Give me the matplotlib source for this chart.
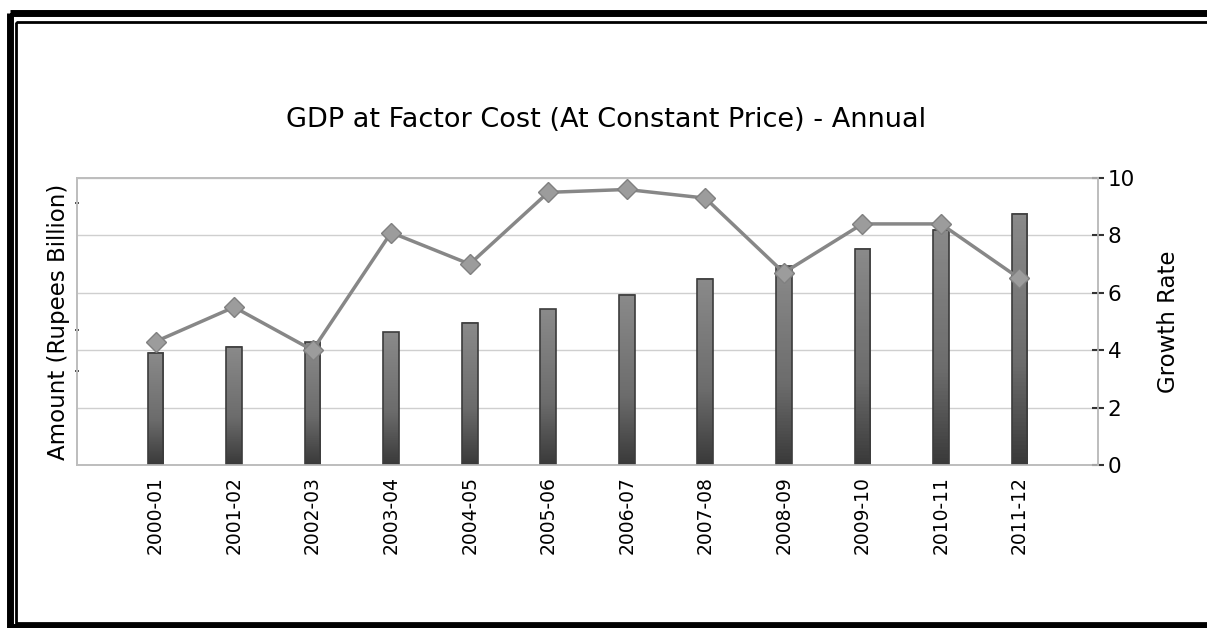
#!/usr/bin/env python3

import matplotlib.pyplot as plt
import numpy as np
from matplotlib.colors import LinearSegmentedColormap
from matplotlib.patches import Rectangle

years = ["2000-01", "2001-02", "2002-03", "2003-04", "2004-05", "2005-06",
         "2006-07", "2007-08", "2008-09", "2009-10", "2010-11", "2011-12"]
amount = [23480, 24750, 25710, 27760, 29710, 32530,
          35640, 38970, 41590, 45160, 49190, 52480]
growth = [4.3, 5.5, 4.0, 8.1, 7.0, 9.5, 9.6, 9.3, 6.7, 8.4, 8.4, 6.5]
growth_ticks = [0, 2, 4, 6, 8, 10]
amount_marks = [19650, 28200, 54800]

W, H = 1207, 628
fig = plt.figure(figsize=(W / 100, H / 100), dpi=100)

# double frame round the picture
frame = fig.add_axes([0, 0, 1, 1], zorder=-5)
frame.set_xlim(0, W)
frame.set_ylim(H, 0)
frame.axis("off")
frame.add_patch(Rectangle((10, 12.5), W + 20, H - 12.5 - 1.5, fill=False,
                          lw=5, ec="black"))
frame.add_patch(Rectangle((16, 22), W + 20, H - 22 - 5, fill=False,
                          lw=2, ec="black"))

ax1 = fig.add_axes([77 / W, 1 - 465 / H, (1098 - 77) / W, (465 - 178) / H])
ax2 = ax1.twinx()

x = np.arange(len(years))
bw = 0.2
cmap = LinearSegmentedColormap.from_list(
    "bar", [(0.0, "#3a3a3a"), (0.4, "#6c6c6c"), (1.0, "#8a8a8a")])
grad = np.linspace(0, 1, 64).reshape(-1, 1)

for gy in np.arange(12000, 60001, 12000):
    ax1.axhline(gy, color="#cfcfcf", lw=1, zorder=0)

for xi, val in zip(x, amount):
    ax1.imshow(grad, cmap=cmap, origin="lower", aspect="auto",
               extent=(xi - bw / 2, xi + bw / 2, 0, val), zorder=2)
    rect = Rectangle((xi - bw / 2, 0), bw, val, fill=False, ec="#3c3c3c",
                     lw=1.2, zorder=3)
    ax1.add_patch(rect)

ax1.set_xlim(-1, len(years))
ax1.set_ylim(0, 60000)
ax1.set_xticks(x)
ax1.set_xticklabels(years, rotation=90, fontsize=13.5)
ax1.tick_params(axis="x", length=0, pad=8)
ax1.set_yticks(amount_marks)
ax1.set_yticklabels([])
ax1.tick_params(axis="y", length=3, width=1.2, color="#333333", direction="inout")
ax1.set_ylabel("Amount (Rupees Billion)", fontsize=16.5, labelpad=0)

ax2.plot(x, growth, color="#878787", lw=2.5, marker="D", markersize=10,
         markerfacecolor="#9c9c9c", markeredgecolor="#808080", zorder=5)
ax2.set_ylim(0, 10)
ax2.set_yticks(growth_ticks)
ax2.tick_params(axis="y", labelsize=15.5, length=8, width=1.5,
                direction="inout", color="#333333", pad=3)
ax2.set_ylabel("Growth Rate", fontsize=16.5, labelpad=16)

for a in (ax1, ax2):
    for side, sp in a.spines.items():
        sp.set_color("#bdbdbd")
        sp.set_linewidth(1.2)

fig.text(606 / W, 1 - 120 / H, "GDP at Factor Cost (At Constant Price) - Annual",
         ha="center", va="center", fontsize=19.5)

fig.savefig("out.png", dpi=100)
